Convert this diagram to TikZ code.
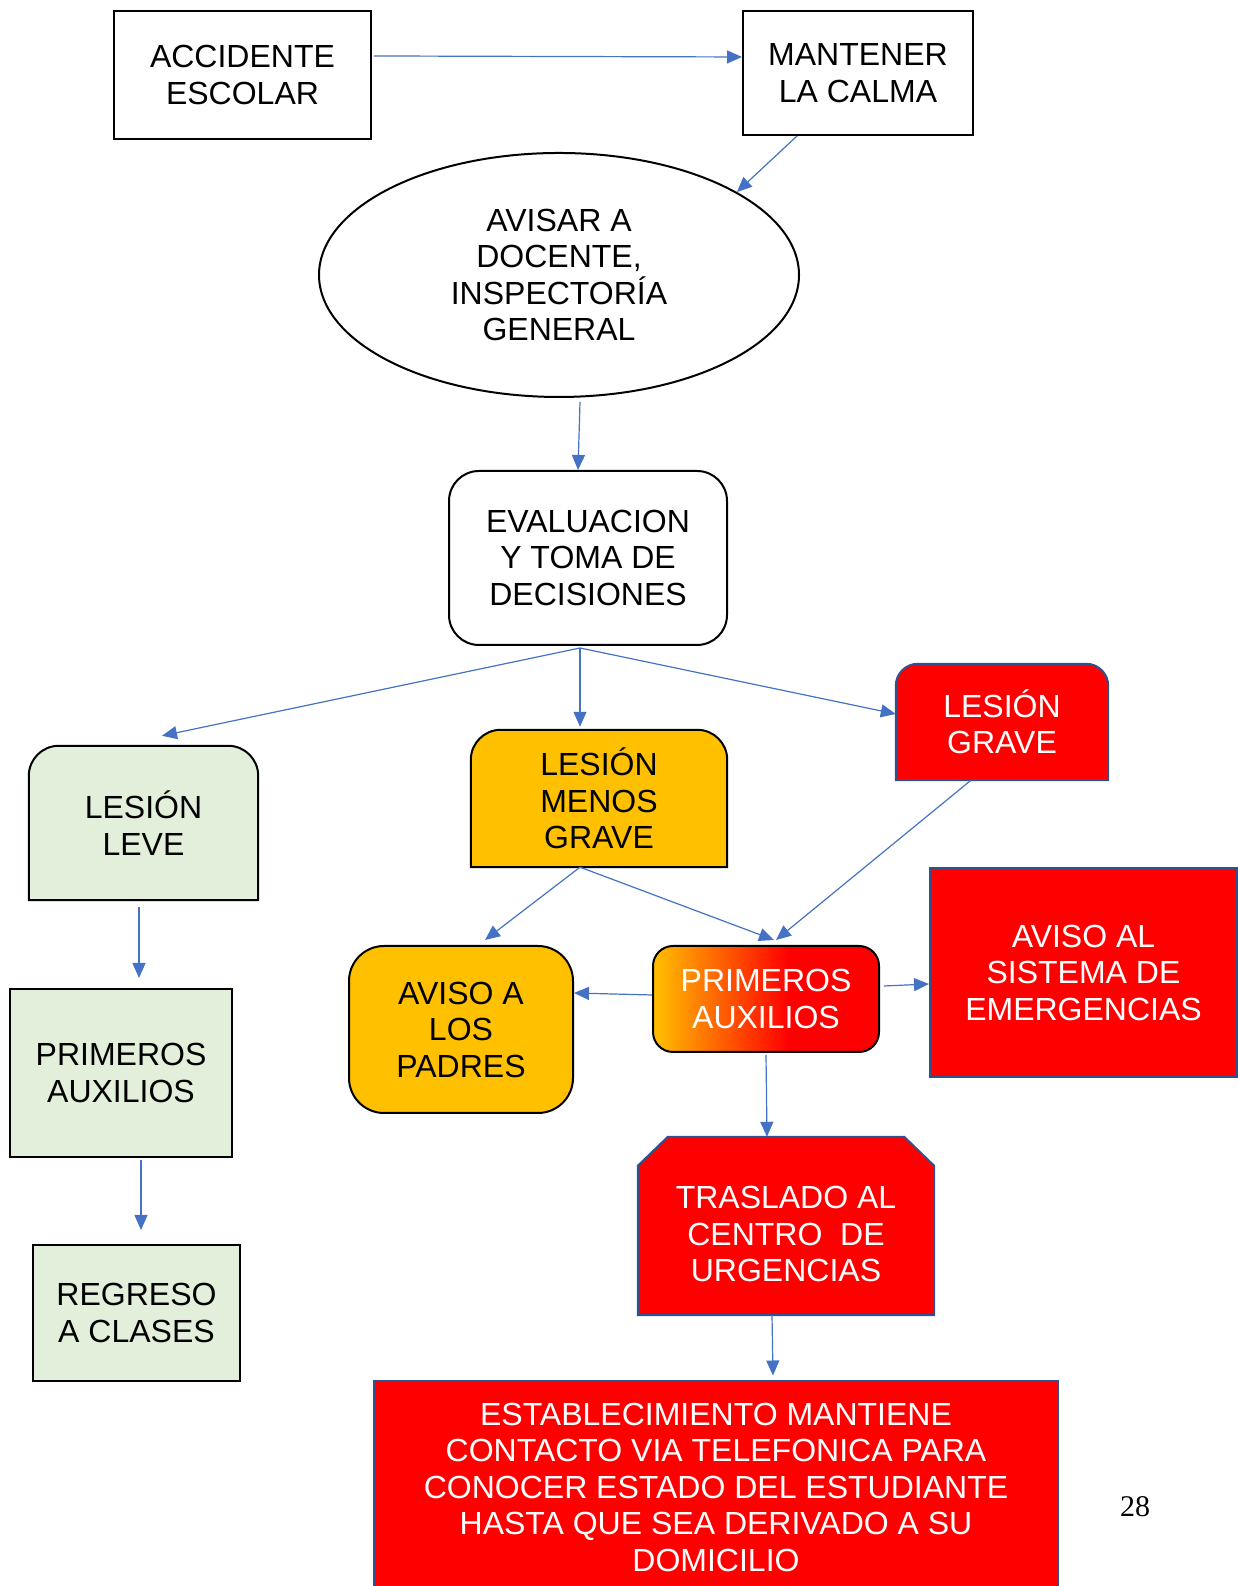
\documentclass[tikz,border=0pt]{standalone}
\usepackage{fontspec}
\setmainfont{Liberation Sans}
\newfontfamily\numfont{Liberation Serif}
\usetikzlibrary{arrows.meta,shapes.geometric,backgrounds}

\definecolor{azulflecha}{HTML}{4472C4}
\definecolor{bordeazul}{HTML}{2F528F}
\definecolor{verdeclaro}{HTML}{E2EFDA}
\definecolor{amarillo}{HTML}{FFC000}

\pgfdeclarehorizontalshading{degradado}{100bp}{color(0bp)=(amarillo); color(25bp)=(amarillo); color(55bp)=(red); color(100bp)=(red)}

\tikzset{
  caja/.style={align=center, font=\fontsize{32}{36.5}\selectfont, inner sep=0pt},
  negra/.style={caja, draw=black, line width=2pt},
  roja/.style={caja, fill=red, draw=bordeazul, line width=2pt, text=white},
  flecha/.style={draw=azulflecha, line width=1.2pt, -{Triangle[length=15pt,width=13pt]}},
}

\begin{document}
\begin{tikzpicture}[x=1pt,y=1pt]
\useasboundingbox (0,0) rectangle (1238,1586);

\node[negra, minimum width=257pt, minimum height=128pt] (accidente) at (242.5,1511) {ACCIDENTE\\ESCOLAR};
\node[negra, minimum width=230pt, minimum height=124pt] (calma) at (858,1513) {MANTENER\\LA CALMA};
\node[negra, ellipse, minimum width=480pt, minimum height=244pt] (avisar) at (559,1311) {AVISAR A\\DOCENTE,\\INSPECTORÍA\\GENERAL};
\node[negra, rounded corners=30pt, minimum width=278pt, minimum height=174pt] (evaluacion) at (588,1028) {EVALUACION\\Y TOMA DE\\DECISIONES};

\node[caja, minimum width=229pt, minimum height=154pt] (leve) at (143.5,763) {LESIÓN\\LEVE};
\node[caja, minimum width=256pt, minimum height=137pt] (menos) at (599,787.5) {LESIÓN\\MENOS\\GRAVE};
\node[caja, text=white, minimum width=212pt, minimum height=116pt] (grave) at (1002,864) {LESIÓN\\GRAVE};

\node[negra, fill=verdeclaro, minimum width=222pt, minimum height=168pt] (auxilios1) at (121,513) {PRIMEROS\\AUXILIOS};
\node[negra, fill=verdeclaro, minimum width=207pt, minimum height=136pt] (regreso) at (136.5,273) {REGRESO\\A CLASES};

\node[negra, fill=amarillo, rounded corners=35pt, minimum width=224pt, minimum height=167pt] (padres) at (461,556.5) {AVISO A\\LOS\\PADRES};
\node[negra, shade, shading=degradado, text=white, rounded corners=20pt, minimum width=226pt, minimum height=106pt] (auxilios2) at (766,587) {PRIMEROS\\AUXILIOS};
\node[roja, minimum width=307pt, minimum height=209pt] (sistema) at (1083.5,613.5) {AVISO AL\\SISTEMA DE\\EMERGENCIAS};
\node[caja, text=white, minimum width=296pt, minimum height=162pt] (traslado) at (786,352) {TRASLADO AL\\CENTRO\ \ DE\\URGENCIAS};
\node[roja, minimum width=684pt, minimum height=211pt] (establecimiento) at (716,99) {ESTABLECIMIENTO MANTIENE\\CONTACTO VIA TELEFONICA PARA\\CONOCER ESTADO DEL ESTUDIANTE\\HASTA QUE SEA DERIVADO A SU\\DOMICILIO};

\node[font=\numfont\fontsize{30}{30}\selectfont] (pagina) at (1135,79) {28};

% cajas con esquinas de arriba redondeadas o cortadas
\begin{scope}[on background layer]
\draw[fill=verdeclaro, draw=black, line width=2pt] (leve.south west) -- ([yshift=-30pt]leve.north west) arc[start angle=180, end angle=90, radius=30pt] -- ([xshift=-30pt]leve.north east) arc[start angle=90, end angle=0, radius=30pt] -- (leve.south east) -- cycle;
\draw[fill=amarillo, draw=black, line width=2pt] (menos.south west) -- ([yshift=-30pt]menos.north west) arc[start angle=180, end angle=90, radius=30pt] -- ([xshift=-30pt]menos.north east) arc[start angle=90, end angle=0, radius=30pt] -- (menos.south east) -- cycle;
\draw[fill=red, draw=bordeazul, line width=2pt] (grave.south west) -- ([yshift=-22pt]grave.north west) arc[start angle=180, end angle=90, radius=22pt] -- ([xshift=-22pt]grave.north east) arc[start angle=90, end angle=0, radius=22pt] -- (grave.south east) -- cycle;
\draw[fill=red, draw=bordeazul, line width=2pt] (traslado.south west) -- ([yshift=-13pt]traslado.north west) -- ([xshift=30pt,yshift=16pt]traslado.north west) -- ([xshift=-30pt,yshift=16pt]traslado.north east) -- ([yshift=-13pt]traslado.north east) -- (traslado.south east) -- cycle;
\end{scope}

\draw[flecha] ([xshift=2pt,yshift=19pt]accidente.east) -- ([yshift=16pt]calma.west);
\draw[flecha] ([xshift=-61pt]calma.south) -- (avisar.25);
\draw[flecha] ([xshift=21pt,yshift=-4pt]avisar.south) -- ([xshift=-10pt]evaluacion.north);
\draw[flecha] ([xshift=-8pt,yshift=-2pt]evaluacion.south) -- ([xshift=18.5pt,yshift=10pt]leve.north);
\draw[flecha] ([xshift=-8pt,yshift=-2pt]evaluacion.south) -- ([xshift=-19pt,yshift=3pt]menos.north);
\draw[flecha] ([xshift=-8pt,yshift=-2pt]evaluacion.south) -- ([yshift=8pt]grave.west);
\draw[flecha] ([xshift=-4.5pt,yshift=-7pt]leve.south) -- ([xshift=18pt,yshift=10pt]auxilios1.north);
\draw[flecha] ([xshift=20pt,yshift=-2pt]auxilios1.south) -- ([xshift=4.5pt,yshift=14pt]regreso.north);
\draw[flecha] ([xshift=-19pt]menos.south) -- ([xshift=24pt,yshift=5pt]padres.north);
\draw[flecha] ([xshift=-19pt]menos.south) -- ([xshift=8pt,yshift=5pt]auxilios2.north);
\draw[flecha] ([xshift=-31pt]grave.south) -- ([xshift=10pt,yshift=5pt]auxilios2.north);
\draw[flecha] ([yshift=4pt]auxilios2.west) -- ([yshift=36.5pt]padres.east);
\draw[flecha] ([xshift=4pt,yshift=13pt]auxilios2.east) -- ([yshift=-11.5pt]sistema.west);
\draw[flecha] ([yshift=-2pt]auxilios2.south) -- ([xshift=-19pt,yshift=16pt]traslado.north);
\draw[flecha] ([xshift=-14pt]traslado.south) -- ([xshift=57pt,yshift=5pt]establecimiento.north);

\end{tikzpicture}
\end{document}
